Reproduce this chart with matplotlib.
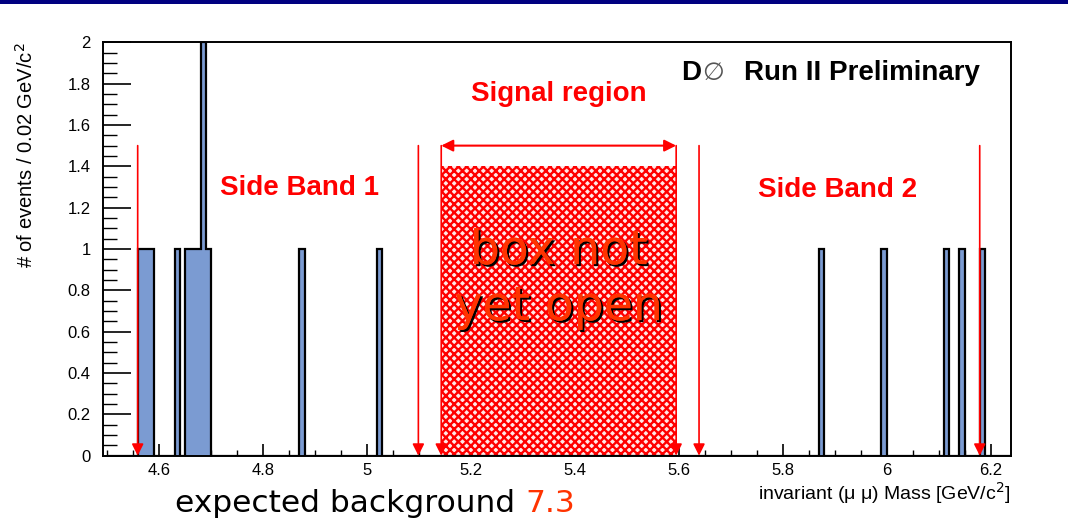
import numpy as np
import matplotlib
matplotlib.use('Agg')
import matplotlib.pyplot as plt
import matplotlib.patheffects as pe
from matplotlib.patches import Rectangle
from matplotlib.ticker import MultipleLocator, FuncFormatter

# non-empty mass bins: lower edge [GeV/c^2] and number of events
bin_low = [4.56, 4.57, 4.58, 4.63, 4.65, 4.66, 4.67, 4.68, 4.69,
           4.87, 5.02, 5.87, 5.99, 6.11, 6.14, 6.18]
bin_count = [1, 1, 1, 1, 1, 1, 1, 2, 1, 1, 1, 1, 1, 1, 1, 1]
bin_width = 0.01
hist_range = (4.50, 6.24)

# region boundaries
side_band_1 = (4.559, 5.099)
side_band_2 = (5.639, 6.179)
signal_window = (5.143, 5.595)
blind_box_height = 1.4
arrow_top = 1.5

expected_bkg = 7.3

RED = '#ff0000'
ORANGE = '#ff3300'
BLUE = '#7b9bd2'

plt.rcParams['font.family'] = ['Liberation Sans', 'DejaVu Sans']
plt.rcParams['hatch.linewidth'] = 1.7

fig = plt.figure(figsize=(10.68, 5.2), dpi=100)
ax = fig.add_axes([0.0967, 0.1237, 0.8496, 0.795])

# fill the histogram from the listed bins
edges = np.round(np.arange(hist_range[0], hist_range[1] + bin_width / 2, bin_width), 2)
counts = np.zeros(len(edges) - 1)
for lo, c in zip(bin_low, bin_count):
    counts[int(round((lo - hist_range[0]) / bin_width))] = c

ax.stairs(counts, edges, fill=True, color=BLUE, zorder=2)
ax.stairs(counts, edges, color='black', lw=1.6, zorder=3)

# blinded signal region
box = Rectangle((signal_window[0], 0), signal_window[1] - signal_window[0], blind_box_height,
                facecolor='#ffe8e8', edgecolor=RED, hatch='xxxx', lw=0, zorder=2)
ax.add_patch(box)


def down_arrow(x):
    ax.annotate('', xy=(x, 0), xytext=(x, arrow_top),
                arrowprops=dict(arrowstyle='-|>,head_length=0.7,head_width=0.35',
                                color=RED, lw=1.2, shrinkA=0, shrinkB=0),
                zorder=4)


for x in list(side_band_1) + list(side_band_2) + list(signal_window):
    down_arrow(x)

ax.annotate('', xy=(signal_window[0], arrow_top), xytext=(signal_window[1], arrow_top),
            arrowprops=dict(arrowstyle='<|-|>,head_length=0.7,head_width=0.35',
                            color=RED, lw=1.5, shrinkA=0, shrinkB=0),
            zorder=4)

# labels inside the frame
ax.text(np.mean(signal_window), 1.715, 'Signal region', color=RED, fontsize=20,
        fontweight='bold', ha='center', va='baseline')
ax.text(4.871, 1.26, 'Side Band 1', color=RED, fontsize=20,
        fontweight='bold', ha='center', va='baseline')
ax.text(5.905, 1.251, 'Side Band 2', color=RED, fontsize=20,
        fontweight='bold', ha='center', va='baseline')
ax.text(5.604, 1.817, 'D', color='black', fontsize=20, fontweight='bold',
        ha='left', va='baseline')
ax.text(5.645, 1.817, '\u2205', color='#555555', fontsize=18,
        family=['DejaVu Sans'], ha='left', va='baseline')
ax.text(6.1795, 1.817, 'Run II Preliminary', color='black', fontsize=20,
        fontweight='bold', ha='right', va='baseline')

shadow = [pe.withSimplePatchShadow(offset=(1.5, -1.5), shadow_rgbFace='black', alpha=1.0),
          pe.Normal()]
ax.text(np.mean(signal_window), 0.927, 'box not', color=ORANGE, fontsize=34,
        family=['DejaVu Sans'], ha='center', va='baseline', path_effects=shadow, zorder=5)
ax.text(np.mean(signal_window), 0.656, 'yet open', color=ORANGE, fontsize=34,
        family=['DejaVu Sans'], ha='center', va='baseline', path_effects=shadow, zorder=5)

# axes styling
ax.set_xlim(4.4928, 6.2385)
ax.set_ylim(0, 2)
ax.xaxis.set_major_locator(MultipleLocator(0.2))
ax.xaxis.set_minor_locator(MultipleLocator(0.05))
ax.yaxis.set_major_locator(MultipleLocator(0.2))
ax.yaxis.set_minor_locator(MultipleLocator(0.05))
fmt = FuncFormatter(lambda v, pos: '%g' % round(v, 2))
ax.xaxis.set_major_formatter(fmt)
ax.yaxis.set_major_formatter(fmt)
ax.tick_params(axis='x', which='major', direction='in', length=9, width=1.2, pad=5, labelsize=12)
ax.tick_params(axis='x', which='minor', direction='in', length=4.5, width=1.0)
ax.tick_params(axis='y', which='major', direction='in', length=20, width=1.2, pad=9, labelsize=12)
ax.tick_params(axis='y', which='minor', direction='in', length=10, width=1.0)
for sp in ax.spines.values():
    sp.set_linewidth(1.4)
    sp.set_zorder(6)

ax.set_xlabel('invariant (\u03bc \u03bc) Mass [GeV/c$^{2}$]', fontsize=14, loc='right')
ax.xaxis.set_label_coords(1.0, -0.058)
ax.set_ylabel('# of events / 0.02 GeV/c$^{2}$', fontsize=14.5, loc='top')
ax.yaxis.set_label_coords(-0.073, 1.0)

# expected background note under the plot, value in colour right after the words
note = fig.text(0.1639, 0.0154, 'expected background ', fontsize=22.5, family=['DejaVu Sans'],
                color='black', ha='left', va='baseline')
fig.canvas.draw()
note_end = fig.transFigure.inverted().transform(
    note.get_window_extent(fig.canvas.get_renderer()))[1, 0]
fig.text(note_end, 0.0154, '%g' % expected_bkg, fontsize=22.5, family=['DejaVu Sans'],
         color=ORANGE, ha='left', va='baseline')

# title bar stripe along the top edge
fig.add_artist(Rectangle((0, 1 - 4 / 520), 1, 4 / 520, transform=fig.transFigure,
                         facecolor='#000080', edgecolor='none'))

fig.savefig('out.png', dpi=100)
